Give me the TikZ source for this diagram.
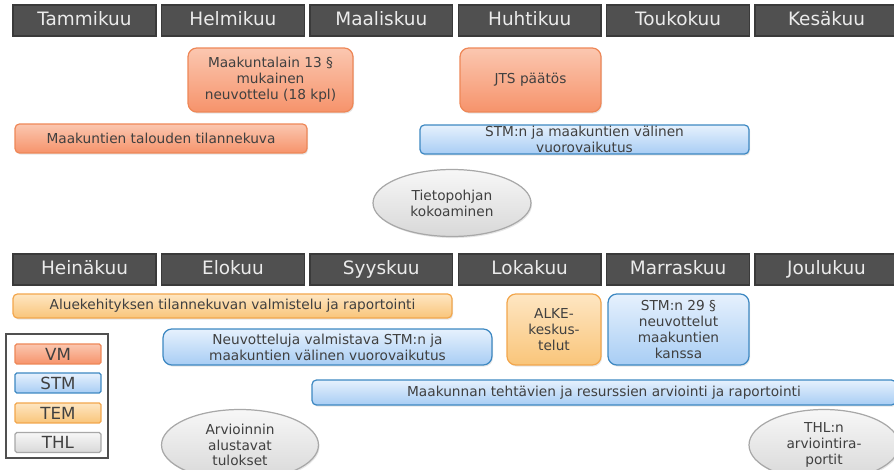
\documentclass[tikz,border=0pt]{standalone}
\usepackage{fontspec}
\setmainfont{DejaVu Sans}
\usetikzlibrary{shapes.geometric,shadows}

\definecolor{monthfill}{HTML}{505050}
\definecolor{monthline}{HTML}{3A3A3A}
\definecolor{txtgray}{HTML}{404040}
\definecolor{vmtop}{HTML}{FBC7B0}
\definecolor{vmbot}{HTML}{F6936B}
\definecolor{vmline}{HTML}{EE8757}
\definecolor{stmtop}{HTML}{E6F1FD}
\definecolor{stmbot}{HTML}{A8CDF4}
\definecolor{stmline}{HTML}{3D88C2}
\definecolor{temtop}{HTML}{FEE6C2}
\definecolor{tembot}{HTML}{F9C57A}
\definecolor{temline}{HTML}{F2A64C}
\definecolor{thltop}{HTML}{F7F7F7}
\definecolor{thlbot}{HTML}{D8D8D8}
\definecolor{thlline}{HTML}{A8A8A8}

\begin{document}
\begin{tikzpicture}[x=0.02cm,y=-0.02cm,
  month/.style={draw=monthline,fill=monthfill,line width=0.8pt,text=white!92!black,
    minimum width=2.86cm,minimum height=0.62cm,inner sep=0pt,text height=7.8pt,text depth=2.2pt,
    font=\fontsize{10.5}{12}\selectfont},
  item/.style={rounded corners=2.5pt,line width=0.7pt,inner sep=1pt,align=center,
    text=txtgray,font=\fontsize{7.8}{9}\selectfont,
    drop shadow={opacity=0.2,shadow xshift=0.6pt,shadow yshift=-0.9pt}},
  big/.style={rounded corners=5pt},
  vm/.style={item,draw=vmline,top color=vmtop,bottom color=vmbot},
  stm/.style={item,draw=stmline,top color=stmtop,bottom color=stmbot},
  tem/.style={item,draw=temline,top color=temtop,bottom color=tembot},
  thl/.style={item,ellipse,draw=thlline,top color=thltop,bottom color=thlbot,inner sep=0pt},
  key/.style={draw,line width=0.7pt,rounded corners=1pt,minimum width=1.72cm,minimum height=0.4cm,
    inner sep=0pt,text=txtgray,font=\fontsize{9.5}{11}\selectfont}
]
\clip (0,0) rectangle (894,470);

% months
\foreach \m [count=\i from 0] in {Tammikuu,Helmikuu,Maaliskuu,Huhtikuu,Toukokuu,Kesäkuu}
  \node[month] (top\i) at (84.5+148.4*\i,20.5) {\m};
\foreach \m [count=\i from 0] in {Heinäkuu,Elokuu,Syyskuu,Lokakuu,Marraskuu,Joulukuu}
  \node[month] (bot\i) at (84.5+148.4*\i,269.5) {\m};

% first half
\node[vm,big,minimum width=3.3cm,minimum height=1.28cm] (neuv13) at (270.5,80)
  {Maakuntalain 13 §\\mukainen\\neuvottelu (18 kpl)};
\node[vm,big,minimum width=2.82cm,minimum height=1.28cm] (jts) at (530.5,80) {JTS päätös};
\node[vm,minimum width=5.84cm,minimum height=0.58cm] (talous) at (161,138.5)
  {Maakuntien talouden tilannekuva};
\node[stm,inner ysep=0pt,minimum width=6.58cm,minimum height=0.58cm] (vuoro) at (584.5,139.5)
  {STM:n ja maakuntien välinen\\vuorovaikutus};
\node[thl,minimum width=3.16cm,minimum height=1.34cm] (tieto) at (452,203)
  {Tietopohjan\\kokoaminen};

% second half
\node[tem,minimum width=8.78cm,minimum height=0.48cm] (alue) at (232.5,306)
  {Aluekehityksen tilannekuvan valmistelu ja raportointi};
\node[stm,big,minimum width=6.58cm,minimum height=0.72cm] (valmis) at (327.5,347)
  {Neuvotteluja valmistava STM:n ja\\maakuntien välinen vuorovaikutus};
\node[tem,big,minimum width=1.88cm,minimum height=1.42cm] (alke) at (554,329.5)
  {ALKE-\\keskus-\\telut};
\node[stm,big,minimum width=2.82cm,minimum height=1.42cm] (neuv29) at (678.5,329.5)
  {STM:n 29 §\\neuvottelut\\maakuntien\\kanssa};
\node[stm,minimum width=11.68cm,minimum height=0.5cm] (tehtavat) at (604,392.5)
  {Maakunnan tehtävien ja resurssien arviointi ja raportointi};
\node[thl,minimum width=3.14cm,minimum height=1.42cm] (alustavat) at (240,445)
  {Arvioinnin\\alustavat\\tulokset};
\node[thl,minimum width=3.0cm,minimum height=1.42cm] (raportit) at (824,445)
  {THL:n\\arviointira-\\portit};

% legend
\node[draw=monthfill,line width=1.5pt,fill=white,minimum width=2.04cm,minimum height=2.48cm] (legend) at (57,396) {};
\node[key,draw=vmline,top color=vmtop,bottom color=vmbot] (kvm) at (58,354) {VM};
\node[key,draw=stmline,top color=stmtop,bottom color=stmbot] (kstm) at (58,383) {STM};
\node[key,draw=temline,top color=temtop,bottom color=tembot] (ktem) at (58,413) {TEM};
\node[key,draw=thlline,top color=thltop,bottom color=thlbot] (kthl) at (58,442.5) {THL};
\end{tikzpicture}
\end{document}
